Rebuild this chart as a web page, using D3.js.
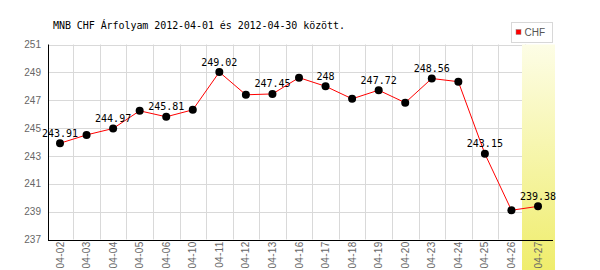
<!DOCTYPE html>
<html>
<head>
<meta charset="utf-8">
<script src="https://cdn.jsdelivr.net/npm/d3@7"></script>
<style>
  body { margin: 0; background: #fff; }
  svg { display: block; }
</style>
</head>
<body>
<div id="chart"></div>
<script>
// chart data
const dates = ["04-02", "04-03", "04-04", "04-05", "04-06", "04-10", "04-11", "04-12", "04-13",
  "04-16", "04-17", "04-18", "04-19", "04-20", "04-23", "04-24", "04-25", "04-26", "04-27"];
const rates = [243.91, 244.51, 244.97, 246.24, 245.81, 246.31, 249.02, 247.39, 247.45,
  248.62, 248, 247.1, 247.72, 246.82, 248.56, 248.33, 243.15, 239.1, 239.38];
const labelled = [0, 2, 4, 6, 8, 10, 12, 14, 16, 18];
const yTicks = [237, 239, 241, 243, 245, 247, 249, 251];
const title = "MNB CHF Árfolyam 2012-04-01 és 2012-04-30 között.";
const seriesName = "CHF";

const width = 600, height = 270;
const plotLeft = 48, plotRight = 553, plotTop = 44.5, plotBottom = 239.5;

const svg = d3.select("#chart").append("svg")
  .attr("width", width)
  .attr("height", height);

const x = d3.scalePoint().domain(dates).range([60, 538]);
const step = x.step();
const y = d3.scaleLinear().domain([237, 251]).range([plotBottom, plotTop]);

// gradient for the highlighted last day
const grad = svg.append("defs").append("linearGradient")
  .attr("id", "hl").attr("x1", 0).attr("y1", 0).attr("x2", 0).attr("y2", 1);
grad.append("stop").attr("offset", "0%").attr("stop-color", "#fdfde6");
grad.append("stop").attr("offset", "100%").attr("stop-color", "#efed6c");

// horizontal grid
svg.append("g").selectAll("line")
  .data(yTicks)
  .join("line")
  .attr("x1", plotLeft).attr("x2", plotRight)
  .attr("y1", d => Math.round(y(d)) + 0.5).attr("y2", d => Math.round(y(d)) + 0.5)
  .attr("stroke", "#d9d9d9");

// vertical grid
svg.append("g").selectAll("line")
  .data(dates.slice(0, -1))
  .join("line")
  .attr("x1", d => Math.round(x(d) + step / 2) + 0.5)
  .attr("x2", d => Math.round(x(d) + step / 2) + 0.5)
  .attr("y1", plotTop).attr("y2", plotBottom)
  .attr("stroke", "#d9d9d9");

// highlight band
const last = dates[dates.length - 1];
svg.append("rect")
  .attr("x", x(last) - 16)
  .attr("y", plotTop)
  .attr("width", 33)
  .attr("height", height - plotTop)
  .attr("fill", "url(#hl)");

// axes
svg.append("line")
  .attr("x1", plotLeft + 0.5).attr("x2", plotLeft + 0.5)
  .attr("y1", plotTop).attr("y2", plotBottom + 1)
  .attr("stroke", "#000");
svg.append("line")
  .attr("x1", plotLeft).attr("x2", plotRight)
  .attr("y1", Math.round(plotBottom) + 0.5).attr("y2", Math.round(plotBottom) + 0.5)
  .attr("stroke", "#000");

// y labels
svg.append("g").selectAll("text")
  .data(yTicks)
  .join("text")
  .attr("x", 41)
  .attr("y", d => y(d) + 3.6)
  .attr("text-anchor", "end")
  .attr("font-family", "Liberation Sans, Arial, sans-serif")
  .attr("font-size", 10)
  .attr("fill", "#666")
  .text(d => d);

// x labels
svg.append("g").selectAll("text")
  .data(dates)
  .join("text")
  .attr("transform", d => `translate(${x(d) + 3.5},${plotBottom + 2}) rotate(-90)`)
  .attr("text-anchor", "end")
  .attr("font-family", "Liberation Sans, Arial, sans-serif")
  .attr("font-size", 10)
  .attr("letter-spacing", 0.3)
  .attr("fill", "#666")
  .text(d => d);

// line
const line = d3.line()
  .x((d, i) => x(dates[i]))
  .y(d => y(d));

svg.append("path")
  .datum(rates)
  .attr("d", line)
  .attr("fill", "none")
  .attr("stroke", "#f00")
  .attr("stroke-width", 1);

// markers
svg.append("g").selectAll("circle")
  .data(rates)
  .join("circle")
  .attr("cx", (d, i) => x(dates[i]))
  .attr("cy", d => y(d))
  .attr("r", 4)
  .attr("fill", "#000");

// value labels
svg.append("g").selectAll("text")
  .data(labelled)
  .join("text")
  .attr("x", i => x(dates[i]))
  .attr("y", i => y(rates[i]) - 6.5)
  .attr("text-anchor", "middle")
  .attr("font-family", "DejaVu Sans Mono, monospace")
  .attr("font-size", 10)
  .attr("fill", "#000")
  .text(i => rates[i]);

// title
svg.append("text")
  .attr("x", 53)
  .attr("y", 29)
  .attr("font-family", "DejaVu Sans Mono, monospace")
  .attr("font-size", 10)
  .attr("textLength", 292)
  .attr("lengthAdjust", "spacing")
  .attr("fill", "#000")
  .text(title);

// legend
const legend = svg.append("g");
legend.append("rect")
  .attr("x", 511.5).attr("y", 22.5)
  .attr("width", 41).attr("height", 20)
  .attr("fill", "#fff")
  .attr("stroke", "#d8d8d8");
legend.append("rect")
  .attr("x", 516).attr("y", 29.5)
  .attr("width", 5).attr("height", 5)
  .attr("fill", "#f00")
  .attr("stroke", "#888")
  .attr("stroke-width", 0.5);
legend.append("text")
  .attr("x", 524.5).attr("y", 36)
  .attr("font-family", "Liberation Sans, Arial, sans-serif")
  .attr("font-size", 10)
  .attr("fill", "#555")
  .text(seriesName);
</script>
</body>
</html>
